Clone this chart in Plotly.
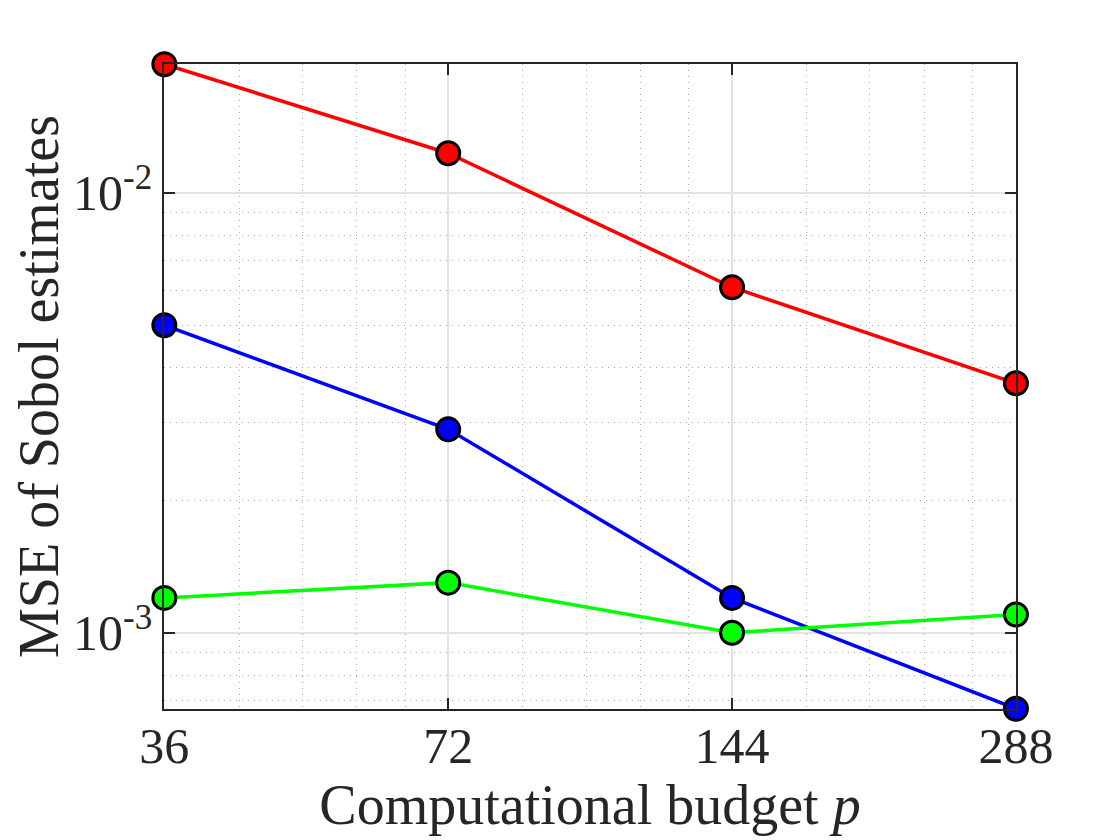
import numpy as np
import plotly.graph_objects as go

# budgets and MSE values
budget = [36, 72, 144, 288]
mse_red = [0.0196, 0.0123, 0.0061, 0.00369]
mse_blue = [0.0050, 0.0029, 0.0012, 0.000672]
mse_green = [0.0012, 0.0013, 0.0010, 0.0011]

x_ticks = [36, 72, 144, 288]
x_ticktext = ["36", "72", "144", "288"]
x_minor = [43.2, 50.4, 57.6, 64.8, 86.4, 100.8, 115.2, 129.6, 172.8, 201.6, 230.4, 259.2]
y_ticks = [1e-3, 1e-2]
y_ticktext = ["10<sup>-3</sup>", "10<sup>-2</sup>"]
y_minor = [7e-4, 8e-4, 9e-4, 2e-3, 3e-3, 4e-3, 5e-3, 6e-3, 7e-3, 8e-3, 9e-3]

FONT = "Liberation Serif"

fig = go.Figure()
for vals, col in [(mse_red, "#ff0000"), (mse_blue, "#0000ff"), (mse_green, "#00ff00")]:
    fig.add_trace(go.Scatter(
        x=budget, y=vals, mode="lines+markers",
        line=dict(color=col, width=3.5),
        marker=dict(size=23, color=col, line=dict(color="black", width=3)),
        cliponaxis=False, showlegend=False))

axis_common = dict(
    showline=True, linecolor="#262626", linewidth=1.5, mirror="ticks",
    ticks="inside", ticklen=11, tickwidth=1.5, tickcolor="#262626",
    showgrid=True, gridcolor="#e3e3e3", gridwidth=1.5, zeroline=False,
    automargin=False,
    tickfont=dict(family=FONT, size=50, color="#262626"),
)
minor_common = dict(tickmode="array", showgrid=True, gridcolor="#a8a8a8",
                    griddash="1px,5px", gridwidth=1, ticks="")

fig.update_xaxes(
    type="log", range=[np.log10(35.97), np.log10(288.05)],
    tickmode="array", tickvals=x_ticks, ticktext=x_ticktext,
    ticklabelstandoff=-8,
    minor=dict(tickvals=x_minor, **minor_common),
    title=dict(text="Computational budget <i>p</i>", standoff=0,
               font=dict(family=FONT, size=56, color="#262626")),
    **axis_common)

fig.update_yaxes(
    type="log", range=[np.log10(0.000671), np.log10(0.01962)],
    tickmode="array", tickvals=y_ticks, ticktext=y_ticktext,
    minor=dict(tickvals=y_minor, **minor_common),
    title=dict(text="MSE of Sobol estimates", standoff=14,
               font=dict(family=FONT, size=56, color="#262626")),
    **axis_common)

fig.update_layout(
    width=1120, height=840,
    margin=dict(l=156, r=112, t=56, b=139),
    paper_bgcolor="white", plot_bgcolor="white",
)

fig.write_html("out.html")
